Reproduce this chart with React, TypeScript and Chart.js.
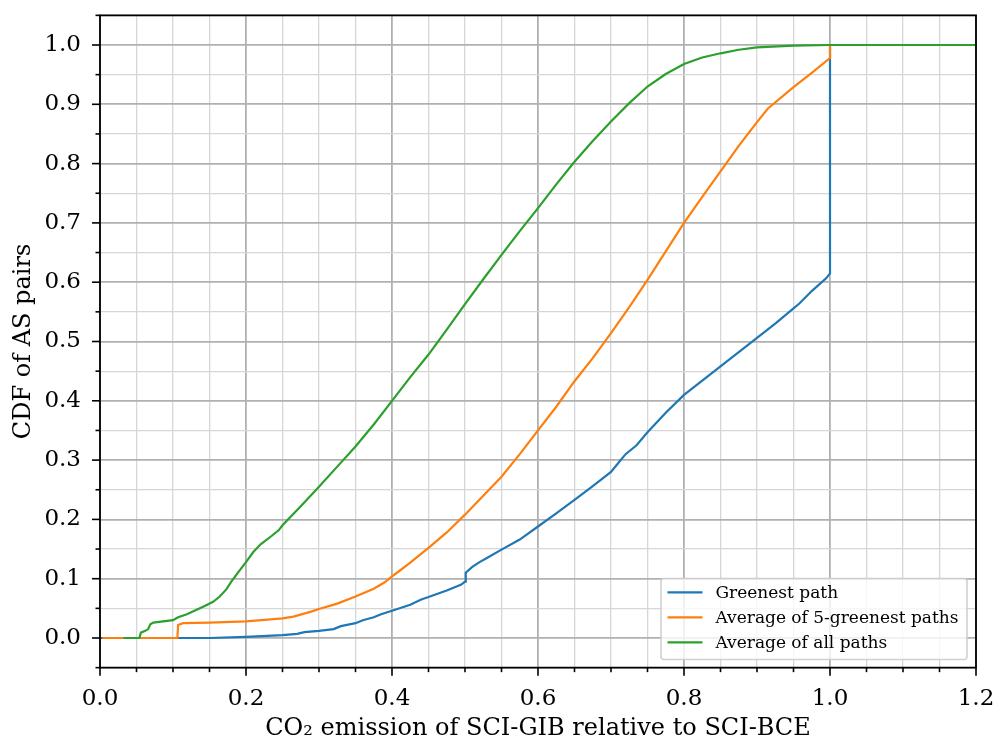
import React, { useEffect, useRef } from 'react';
import { Chart, registerables } from 'chart.js';
Chart.register(...registerables);

const seriesLabels = ['Greenest path', 'Average of 5-greenest paths', 'Average of all paths'];
const seriesColors = ['#1f77b4', '#ff7f0e', '#2ca02c'];

const greenestX = [0.0, 0.15, 0.2, 0.25, 0.27, 0.28, 0.3, 0.32, 0.33, 0.35, 0.36, 0.375, 0.385, 0.4, 0.425, 0.44, 0.45, 0.475, 0.495, 0.5, 0.501, 0.51, 0.52, 0.53, 0.55, 0.575, 0.6, 0.625, 0.65, 0.675, 0.7, 0.71, 0.72, 0.735, 0.75, 0.775, 0.8, 0.825, 0.85, 0.875, 0.9, 0.925, 0.95, 0.958, 0.975, 0.995, 1.0, 1.0];
const greenestY = [0.0, 0.0, 0.002, 0.005, 0.007, 0.01, 0.012, 0.015, 0.02, 0.025, 0.03, 0.035, 0.04, 0.046, 0.056, 0.065, 0.069, 0.08, 0.09, 0.095, 0.11, 0.12, 0.128, 0.135, 0.149, 0.166, 0.188, 0.21, 0.233, 0.256, 0.28, 0.295, 0.31, 0.325, 0.347, 0.38, 0.41, 0.434, 0.458, 0.482, 0.506, 0.53, 0.556, 0.564, 0.585, 0.607, 0.615, 1.0];

const top5X = [0.003, 0.106, 0.107, 0.114, 0.15, 0.2, 0.25, 0.265, 0.288, 0.3, 0.325, 0.35, 0.375, 0.39, 0.4, 0.41, 0.425, 0.45, 0.475, 0.5, 0.525, 0.55, 0.575, 0.6, 0.625, 0.65, 0.675, 0.7, 0.725, 0.75, 0.775, 0.8, 0.825, 0.85, 0.875, 0.9, 0.915, 0.95, 0.975, 1.0, 1.0];
const top5Y = [0.0, 0.0, 0.022, 0.025, 0.026, 0.028, 0.033, 0.036, 0.044, 0.049, 0.058, 0.07, 0.083, 0.094, 0.104, 0.113, 0.127, 0.152, 0.178, 0.208, 0.24, 0.272, 0.31, 0.35, 0.39, 0.433, 0.472, 0.514, 0.558, 0.604, 0.652, 0.7, 0.744, 0.787, 0.83, 0.87, 0.893, 0.929, 0.953, 0.978, 1.0];

const allX = [0.032, 0.054, 0.056, 0.062, 0.066, 0.069, 0.073, 0.1, 0.107, 0.119, 0.142, 0.155, 0.164, 0.173, 0.181, 0.19, 0.2, 0.21, 0.22, 0.235, 0.245, 0.25, 0.275, 0.3, 0.325, 0.35, 0.375, 0.4, 0.425, 0.45, 0.475, 0.5, 0.525, 0.55, 0.575, 0.6, 0.625, 0.65, 0.675, 0.7, 0.725, 0.75, 0.775, 0.8, 0.825, 0.85, 0.875, 0.9, 0.95, 1.0, 1.2];
const allY = [0.0, 0.0, 0.009, 0.012, 0.015, 0.023, 0.026, 0.03, 0.035, 0.04, 0.053, 0.061, 0.07, 0.082, 0.097, 0.112, 0.128, 0.145, 0.158, 0.172, 0.182, 0.19, 0.222, 0.255, 0.289, 0.323, 0.36, 0.4, 0.44, 0.478, 0.52, 0.563, 0.605, 0.646, 0.686, 0.725, 0.765, 0.803, 0.838, 0.871, 0.902, 0.93, 0.951, 0.968, 0.979, 0.986, 0.992, 0.996, 0.999, 1.0, 1.0];

const xMin = 0, xMax = 1.2, yMin = -0.05, yMax = 1.05;
const xTickLabels = ['0.0', '0.2', '0.4', '0.6', '0.8', '1.0', '1.2'];
const yTickLabels = ['0.0', '0.1', '0.2', '0.3', '0.4', '0.5', '0.6', '0.7', '0.8', '0.9', '1.0'];
const xTitle = 'CO\u2082 emission of SCI-GIB relative to SCI-BCE';
const yTitle = 'CDF of AS pairs';

const FONT = "'DejaVu Serif', serif";
const isMajorX = (v: number) => Math.round(v * 20) % 4 === 0;
const isMajorY = (v: number) => Math.round(v * 20) % 2 === 0;
const fmt = (v: number) => { const r = Math.round(v * 10) / 10; return (r === 0 ? 0 : r).toFixed(1); };

const decorPlugin = {
  id: 'mplDecor',
  afterDraw(chart: any) {
    const { ctx, chartArea, scales } = chart;
    const { left, right, top, bottom } = chartArea;
    ctx.save();
    ctx.strokeStyle = '#000';
    ctx.lineWidth = 1.6;
    scales.x.ticks.forEach((t: any) => {
      if (t.value < xMin - 1e-9 || t.value > xMax + 1e-9) return;
      const px = scales.x.getPixelForValue(t.value);
      const len = isMajorX(t.value) ? 8 : 4.5;
      ctx.beginPath(); ctx.moveTo(px, bottom); ctx.lineTo(px, bottom + len); ctx.stroke();
    });
    scales.y.ticks.forEach((t: any) => {
      const py = scales.y.getPixelForValue(t.value);
      const len = isMajorY(t.value) ? 8 : 4.5;
      ctx.beginPath(); ctx.moveTo(left, py); ctx.lineTo(left - len, py); ctx.stroke();
    });
    ctx.lineWidth = 1.8;
    ctx.strokeRect(left, top, right - left, bottom - top);
    // legend
    const bx = 661, by = 578.5, bw = 306, bh = 81;
    ctx.fillStyle = 'rgba(255,255,255,0.8)';
    ctx.strokeStyle = 'rgba(204,204,204,0.9)';
    ctx.lineWidth = 1.6;
    ctx.beginPath();
    (ctx as any).roundRect(bx, by, bw, bh, 3);
    ctx.fill(); ctx.stroke();
    ctx.font = `17px ${FONT}`;
    ctx.textBaseline = 'middle';
    ctx.textAlign = 'left';
    chart.data.datasets.forEach((ds: any, i: number) => {
      const yy = 592.3 + i * 25;
      ctx.strokeStyle = ds.borderColor;
      ctx.lineWidth = 2.2;
      ctx.beginPath(); ctx.moveTo(667.5, yy); ctx.lineTo(702.5, yy); ctx.stroke();
      ctx.fillStyle = '#000';
      ctx.fillText(ds.label, 715.5, yy + 1);
    });
    ctx.restore();
  },
};

const toPts = (xs: number[], ys: number[]) => xs.map((x, i) => ({ x, y: ys[i] }));

export default function App() {
  const ref = useRef<HTMLCanvasElement>(null);
  useEffect(() => {
    document.body.style.margin = '0';
    const c = ref.current!;
    const series = [toPts(greenestX, greenestY), toPts(top5X, top5Y), toPts(allX, allY)];
    const chart = new Chart(c, {
      type: 'scatter',
      data: {
        datasets: series.map((d, i) => ({
          label: seriesLabels[i],
          data: d,
          showLine: true,
          borderColor: seriesColors[i],
          backgroundColor: seriesColors[i],
          borderWidth: 2.2,
          pointRadius: 0,
          tension: 0,
          order: 2 - i,
        })),
      },
      options: {
        animation: false,
        responsive: false,
        events: [],
        layout: { padding: { left: 0, right: 21, top: 15.35, bottom: 0 } },
        plugins: { legend: { display: false }, tooltip: { enabled: false } },
        scales: {
          x: {
            type: 'linear', min: xMin, max: xMax,
            afterFit: (s: any) => { s.height = 72.35; s.paddingLeft = 0; s.paddingRight = 0; },
            border: { display: false },
            grid: {
              drawTicks: false,
              color: (c: any) => (c.tick && isMajorX(c.tick.value) ? '#b0b0b0' : '#d6d6d6'),
              lineWidth: (c: any) => (c.tick && isMajorX(c.tick.value) ? 1.8 : 1.3),
            },
            ticks: {
              stepSize: 0.05, autoSkip: false, maxRotation: 0, padding: 18,
              color: '#000', font: { family: FONT, size: 23 },
              callback: (v: any) => { const s = fmt(Number(v)); return isMajorX(Number(v)) && xTickLabels.includes(s) ? s : ''; },
            },
            title: { display: true, text: xTitle, color: '#000', font: { family: FONT, size: 24 }, padding: { top: 0, bottom: -3 } },
          },
          y: {
            type: 'linear', min: yMin, max: yMax,
            afterFit: (s: any) => { s.width = 100; s.paddingTop = 0; s.paddingBottom = 0; },
            border: { display: false },
            grid: {
              drawTicks: false,
              color: (c: any) => (c.tick && isMajorY(c.tick.value) ? '#b0b0b0' : '#d6d6d6'),
              lineWidth: (c: any) => (c.tick && isMajorY(c.tick.value) ? 1.8 : 1.3),
            },
            ticks: {
              stepSize: 0.05, autoSkip: false, padding: 19,
              color: '#000', font: { family: FONT, size: 23 },
              callback: (v: any) => { const s = fmt(Number(v)); return isMajorY(Number(v)) && yTickLabels.includes(s) && Number(v) > -0.01 ? s : ''; },
            },
            title: { display: true, text: yTitle, color: '#000', font: { family: FONT, size: 24 }, padding: { top: 9, bottom: 0 } },
          },
        },
      },
      plugins: [decorPlugin],
    } as any);
    return () => chart.destroy();
  }, []);
  return <canvas ref={ref} width={997} height={740} style={{ display: 'block' }} />;
}
